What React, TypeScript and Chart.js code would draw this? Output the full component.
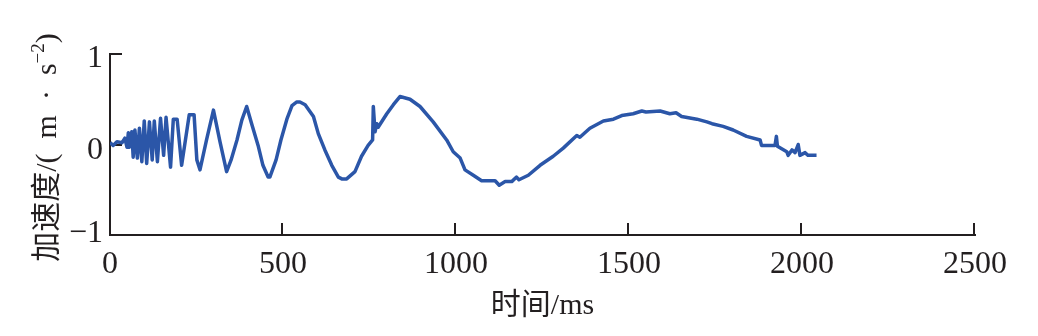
import React, { useEffect, useRef } from 'react';
import { Chart, registerables } from 'chart.js';

Chart.register(...registerables);

// Time (ms) and acceleration (m·s^-2)
const timeMs = [
  0, 9, 20, 35, 43, 49, 53, 56, 63, 67, 72, 79, 85, 92, 99, 106, 114, 122, 128, 137,
  146, 155, 162, 175, 183, 194, 207, 229, 243, 251, 260, 279, 299, 318, 337, 350, 367, 381, 395, 410,
  428, 442, 457, 462, 480, 494, 512, 526, 540, 549, 564, 588, 602, 621, 641, 660, 670, 684, 708, 727,
  746, 759, 761, 766, 771, 775, 800, 819, 838, 867, 896, 934, 973, 992, 1012, 1026, 1050, 1074, 1113, 1125,
  1142, 1161, 1175, 1182, 1209, 1243, 1281, 1310, 1349, 1358, 1387, 1426, 1455, 1479, 1512, 1537, 1549, 1590, 1618, 1636,
  1652, 1696, 1725, 1740, 1772, 1801, 1840, 1879, 1883, 1922, 1926, 1929, 1956, 1960, 1971, 1980, 1989, 1994, 2009, 2017,
  2042,
];
const accel = [
  0.02, -0.01, 0.03, 0.02, 0.07, -0.03, 0.13, -0.03, 0.14, -0.14, 0.16, -0.15, 0.18, -0.19, 0.26, -0.21, 0.25, -0.17, 0.26, -0.19,
  0.29, -0.12, 0.30, -0.25, 0.28, 0.28, -0.23, 0.33, 0.33, -0.17, -0.28, 0.05, 0.38, 0.03, -0.30, -0.17, 0.05, 0.27, 0.42, 0.22,
  -0.01, -0.23, -0.36, -0.36, -0.17, 0.05, 0.29, 0.43, 0.47, 0.47, 0.44, 0.31, 0.12, -0.06, -0.23, -0.36, -0.38, -0.38, -0.30, -0.13,
  -0.01, 0.05, 0.42, 0.14, 0.23, 0.19, 0.34, 0.44, 0.53, 0.50, 0.42, 0.25, 0.05, -0.08, -0.15, -0.28, -0.34, -0.40, -0.40, -0.45,
  -0.41, -0.41, -0.36, -0.39, -0.34, -0.23, -0.13, -0.04, 0.10, 0.08, 0.18, 0.26, 0.28, 0.32, 0.34, 0.37, 0.36, 0.37, 0.34, 0.35,
  0.31, 0.28, 0.25, 0.23, 0.20, 0.16, 0.09, 0.05, -0.01, -0.01, 0.09, -0.02, -0.08, -0.12, -0.06, -0.09, 0.00, -0.12, -0.09, -0.12,
  -0.12,
];

const xTicks = [0, 500, 1000, 1500, 2000, 2500];
const yTicks = [-1, 0, 1];
const yTickLabels = ['−1', '0', '1'];
const xTitle = '时间/ms';
const yTitleParts = ['加速度/(', '\u2002m\u2002·\u2002s', '−2', ')'];

const INK = '#231f20';
const LINE = '#2b56a8';
const SERIF = '"Liberation Serif", "Noto Sans CJK SC", serif';

const axisDeco = {
  id: 'axisDeco',
  beforeDatasetsDraw(chart: any) {
    const { ctx, chartArea, scales } = chart;
    const xs = scales.x;
    const ys = scales.y;
    ctx.save();
    ctx.strokeStyle = INK;
    ctx.lineWidth = 2;
    ctx.beginPath();
    for (const v of xTicks) {
      if (v === 0) continue;
      const px = Math.round(xs.getPixelForValue(v)) - 1;
      ctx.moveTo(px, chartArea.bottom);
      ctx.lineTo(px, chartArea.bottom - 12);
    }
    for (const v of yTicks) {
      if (v === -1) continue;
      const py = Math.round(ys.getPixelForValue(v));
      ctx.moveTo(chartArea.left, py);
      ctx.lineTo(chartArea.left + 12, py);
    }
    ctx.stroke();
    ctx.restore();
  },
  afterDraw(chart: any) {
    const { ctx, chartArea, scales } = chart;
    const ys = scales.y;
    // y tick labels
    ctx.save();
    ctx.fillStyle = INK;
    ctx.font = `32px ${SERIF}`;
    ctx.textAlign = 'right';
    ctx.textBaseline = 'alphabetic';
    yTicks.forEach((v, i) => {
      const py = ys.getPixelForValue(v);
      const nudge = v === -1 ? 7 : v === 0 ? 14 : 13;
      ctx.fillText(yTickLabels[i], chartArea.left - 7, py + nudge);
    });
    ctx.restore();

    // y title (rotated, with superscript)
    ctx.save();
    const mainFont = `30px ${SERIF}`;
    const supFont = `19px ${SERIF}`;
    const fonts = [mainFont, mainFont, supFont, mainFont];
    const widths = yTitleParts.map((p, i) => {
      ctx.font = fonts[i];
      return ctx.measureText(p).width;
    });
    const total = widths.reduce((a, b) => a + b, 0);
    ctx.translate(48, (chartArea.top + chartArea.bottom) / 2 + 3);
    ctx.rotate(-Math.PI / 2);
    ctx.fillStyle = INK;
    ctx.textBaseline = 'middle';
    ctx.textAlign = 'left';
    let cx = -total / 2;
    yTitleParts.forEach((p, i) => {
      ctx.font = fonts[i];
      ctx.fillText(p, cx, i === 2 ? -9 : 0);
      cx += widths[i];
    });
    ctx.restore();
  },
};

export default function App() {
  const canvasRef = useRef<HTMLCanvasElement | null>(null);

  useEffect(() => {
    document.body.style.margin = '0';
    const canvas = canvasRef.current;
    if (!canvas) return;
    const points = timeMs.map((t, i) => ({ x: t, y: accel[i] }));
    const tickFont = { family: SERIF, size: 32 };
    const chart = new Chart(canvas, {
      type: 'line',
      data: {
        datasets: [
          {
            data: points,
            borderColor: LINE,
            borderWidth: 3.5,
            pointRadius: 0,
            tension: 0,
            fill: false,
            borderJoinStyle: 'round',
          },
        ],
      },
      options: {
        animation: false,
        responsive: false,
        maintainAspectRatio: false,
        devicePixelRatio: 1,
        layout: { padding: { top: 54, right: 63, left: 0, bottom: 0 } },
        plugins: { legend: { display: false }, tooltip: { enabled: false } },
        scales: {
          x: {
            type: 'linear',
            min: 0,
            max: 2500,
            afterBuildTicks: (s: any) => {
              s.ticks = xTicks.map((v) => ({ value: v }));
            },
            afterFit: (s: any) => {
              s.height = 101;
            },
            ticks: {
              font: tickFont,
              color: INK,
              padding: 2,
              maxRotation: 0,
              autoSkip: false,
              callback: (v: any) => String(v),
            },
            grid: { display: false },
            border: { display: true, color: INK, width: 2 },
            title: {
              display: true,
              text: xTitle,
              color: INK,
              font: { family: SERIF, size: 30 },
              padding: { top: 0, bottom: 12 },
            },
          },
          y: {
            type: 'linear',
            min: -1,
            max: 1,
            afterBuildTicks: (s: any) => {
              s.ticks = yTicks.map((v) => ({ value: v }));
            },
            afterFit: (s: any) => {
              s.width = 110;
            },
            ticks: { display: false },
            grid: { display: false },
            border: { display: true, color: INK, width: 2 },
          },
        },
      },
      plugins: [axisDeco],
    } as any);
    return () => chart.destroy();
  }, []);

  return (
    <div style={{ position: 'absolute', left: 0, top: 0, width: 1038, height: 336, background: '#fff' }}>
      <canvas ref={canvasRef} width={1038} height={336} style={{ display: 'block', width: 1038, height: 336 }} />
    </div>
  );
}
